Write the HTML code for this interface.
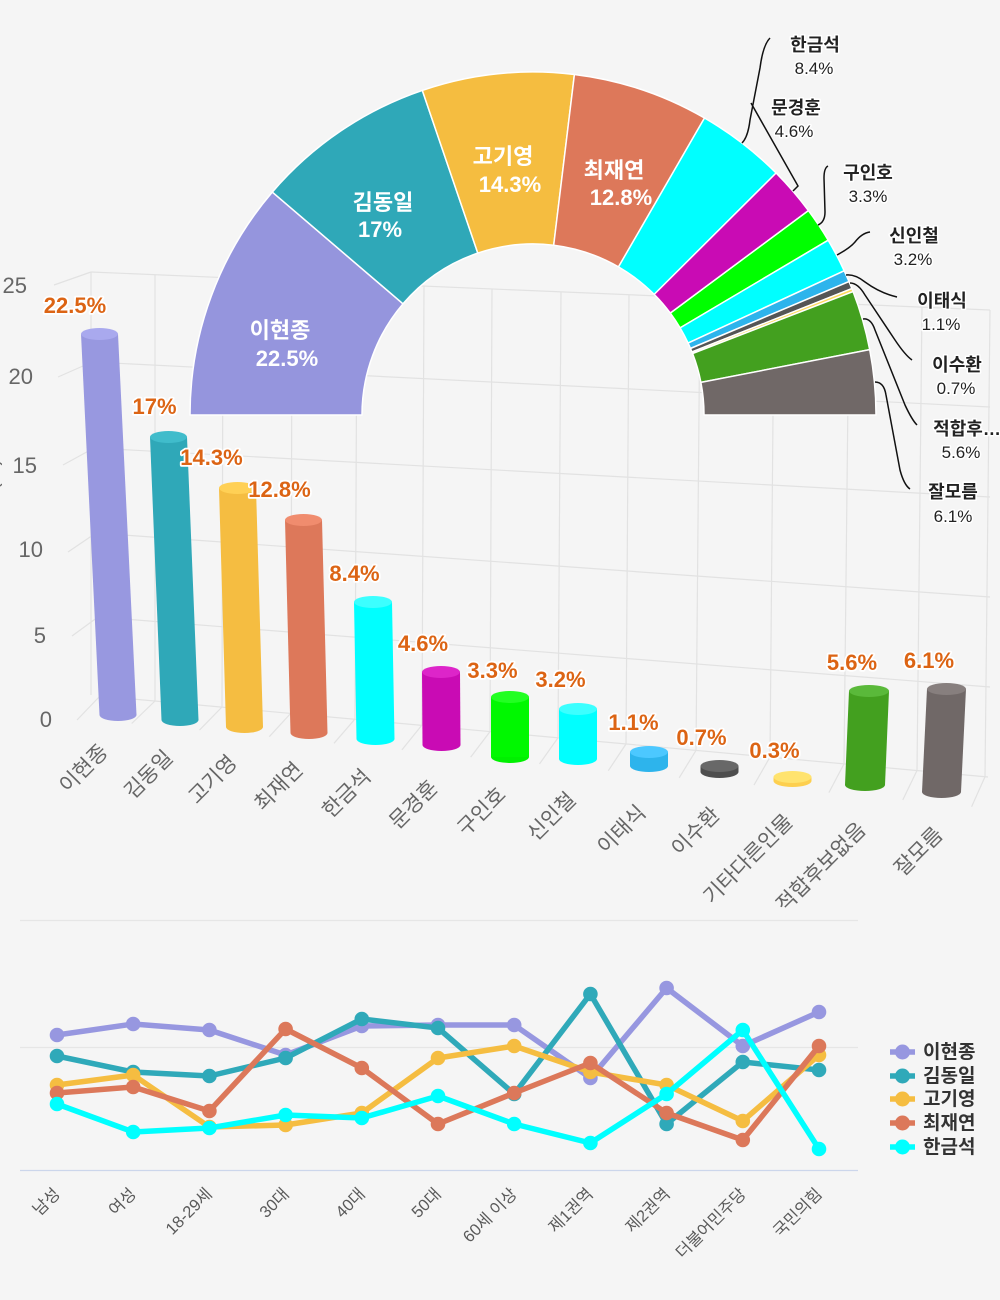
<!DOCTYPE html>
<html>
<head>
<meta charset="utf-8">
<style>
html,body{margin:0;padding:0;background:#f5f5f5;}
body{width:1000px;height:1300px;overflow:hidden;}
svg{display:block;font-family:"Liberation Sans","Noto Sans CJK KR",sans-serif;}
.grid line{stroke:#e2e2e2;stroke-width:1.2;}
.val{font-size:22px;font-weight:bold;fill:#dc6414;stroke:#fff;stroke-width:3.5px;paint-order:stroke;stroke-linejoin:round;text-anchor:middle;}
.cat{font-size:21px;fill:#666;text-anchor:end;}
.ytick{font-size:22px;fill:#666;text-anchor:end;}
.pin{font-size:22px;font-weight:bold;fill:#fff;text-anchor:middle;}
.pn{font-size:18px;font-weight:bold;fill:#222;text-anchor:middle;stroke:#fff;stroke-width:3px;paint-order:stroke;stroke-linejoin:round;}
.pp{font-size:17px;fill:#222;text-anchor:middle;stroke:#fff;stroke-width:3px;paint-order:stroke;stroke-linejoin:round;}
.conn{fill:none;stroke:#111;stroke-width:1.5;}
.lcat{font-size:16.5px;fill:#5a5a5a;text-anchor:end;}
.leg{font-size:19px;font-weight:bold;fill:#333;}
</style>
</head>
<body>
<svg width="1000" height="1300" viewBox="0 0 1000 1300" xmlns="http://www.w3.org/2000/svg">
<rect x="0" y="0" width="1000" height="1300" fill="#f5f5f5"/>

<!-- 3D grid -->
<g class="grid">
  <line x1="91" y1="272" x2="990" y2="310"/>
  <line x1="92" y1="362" x2="990" y2="407"/>
  <line x1="94" y1="448" x2="990" y2="497"/>
  <line x1="96" y1="533" x2="990" y2="597"/>
  <line x1="98" y1="617" x2="990" y2="687"/>
  <line x1="100" y1="696" x2="988" y2="777"/>
  <line x1="54" y1="285" x2="91" y2="272"/>
  <line x1="58" y1="377" x2="92" y2="362"/>
  <line x1="63" y1="465" x2="94" y2="448"/>
  <line x1="68" y1="552" x2="96" y2="533"/>
  <line x1="72" y1="636" x2="98" y2="617"/>
  <line x1="77" y1="720" x2="100" y2="696"/>
  <line x1="91" y1="272" x2="91" y2="695"/>
  <line x1="155" y1="274.7" x2="155" y2="701"/>
  <line x1="223" y1="277.6" x2="222" y2="707"/>
  <line x1="292" y1="280.5" x2="291" y2="713"/>
  <line x1="357" y1="283.2" x2="355" y2="719"/>
  <line x1="424" y1="286.1" x2="422" y2="725"/>
  <line x1="492" y1="289" x2="490" y2="731.6"/>
  <line x1="561" y1="291.9" x2="558" y2="737.8"/>
  <line x1="629" y1="294.7" x2="626" y2="744"/>
  <line x1="700" y1="297.7" x2="696" y2="750.4"/>
  <line x1="774" y1="300.9" x2="770" y2="757.1"/>
  <line x1="849" y1="304" x2="844" y2="763.9"/>
  <line x1="922" y1="307.1" x2="917" y2="770.5"/>
  <line x1="990" y1="310" x2="985" y2="776.7"/>
  <line x1="155" y1="701" x2="131.7" y2="723.5"/>
  <line x1="222" y1="707" x2="199.5" y2="730.1"/>
  <line x1="291" y1="713" x2="269.3" y2="736.7"/>
  <line x1="355" y1="719" x2="334" y2="743.3"/>
  <line x1="422" y1="725" x2="401.9" y2="749.9"/>
  <line x1="490" y1="731.6" x2="470.7" y2="757.1"/>
  <line x1="558" y1="737.8" x2="539.5" y2="763.9"/>
  <line x1="626" y1="744" x2="608.3" y2="770.7"/>
  <line x1="696" y1="750.4" x2="679.2" y2="777.8"/>
  <line x1="770" y1="757.1" x2="754" y2="785.1"/>
  <line x1="844" y1="763.9" x2="828.9" y2="792.6"/>
  <line x1="917" y1="770.5" x2="902.8" y2="799.9"/>
  <line x1="985" y1="776.7" x2="971.6" y2="806.7"/>
</g>

<!-- y axis -->
<text class="ytick" x="27" y="293">25</text>
<text class="ytick" x="33" y="384">20</text>
<text class="ytick" x="37" y="473">15</text>
<text class="ytick" x="43" y="557">10</text>
<text class="ytick" x="46" y="643">5</text>
<text class="ytick" x="52" y="727">0</text>
<text x="-2" y="502" font-size="20" fill="#666" text-anchor="middle" transform="rotate(-90 -2 502)">지지율(%)</text>

<!-- bars -->
<g>
  <ellipse cx="118" cy="715" rx="18.5" ry="6" fill="#9898e0"/>
  <polygon points="81,334 118,334 136.5,715 99.5,715" fill="#9898e0"/>
  <ellipse cx="99.5" cy="334" rx="18.5" ry="6" fill="#a9a9ee"/>
  <ellipse cx="180" cy="720" rx="18.5" ry="6" fill="#2fa8b8"/>
  <polygon points="150,437 187,437 198.5,720 161.5,720" fill="#2fa8b8"/>
  <ellipse cx="168.5" cy="437" rx="18.5" ry="6" fill="#40bccb"/>
  <ellipse cx="244.5" cy="727" rx="18.5" ry="6" fill="#f5bd41"/>
  <polygon points="219,488 256,488 263,727 226,727" fill="#f5bd41"/>
  <ellipse cx="237.5" cy="488" rx="18.5" ry="6" fill="#ffd055"/>
  <ellipse cx="309" cy="733" rx="18.5" ry="6" fill="#dd785a"/>
  <polygon points="285,520 322,520 327.5,733 290.5,733" fill="#dd785a"/>
  <ellipse cx="303.5" cy="520" rx="18.5" ry="6" fill="#f08c6e"/>
  <ellipse cx="375.5" cy="739" rx="19" ry="6" fill="#00ffff"/>
  <polygon points="354,602 392,602 394.5,739 356.5,739" fill="#00ffff"/>
  <ellipse cx="373" cy="602" rx="19" ry="6" fill="#3cffff"/>
  <ellipse cx="441.5" cy="745" rx="19" ry="6" fill="#c90bb4"/>
  <polygon points="422,672 460,672 460.5,745 422.5,745" fill="#c90bb4"/>
  <ellipse cx="441" cy="672" rx="19" ry="6" fill="#dd25c9"/>
  <ellipse cx="510" cy="757" rx="19" ry="6" fill="#00f000"/>
  <polygon points="491,697 529,697 529,757 491,757" fill="#00f800"/>
  <ellipse cx="510" cy="697" rx="19" ry="6" fill="#22ff22"/>
  <ellipse cx="578" cy="759" rx="19" ry="6" fill="#00ffff"/>
  <polygon points="559,709 597,709 597,759 559,759" fill="#00ffff"/>
  <ellipse cx="578" cy="709" rx="19" ry="6" fill="#3cffff"/>
  <ellipse cx="649" cy="766" rx="19" ry="6" fill="#2db4ec"/>
  <polygon points="630,752 668,752 668,766 630,766" fill="#2db4ec"/>
  <ellipse cx="649" cy="752" rx="19" ry="6" fill="#4cc8ff"/>
  <ellipse cx="719.5" cy="772" rx="19" ry="6" fill="#4e4e4e"/>
  <polygon points="700.5,766 738.5,766 738.5,772 700.5,772" fill="#4e4e4e"/>
  <ellipse cx="719.5" cy="766" rx="19" ry="6" fill="#686868"/>
  <ellipse cx="792.5" cy="781" rx="19" ry="6" fill="#fdcf4f"/>
  <polygon points="773.5,777 811.5,777 811.5,781 773.5,781" fill="#fdcf4f"/>
  <ellipse cx="792.5" cy="777" rx="19" ry="6" fill="#ffe36e"/>
  <ellipse cx="865" cy="785" rx="20" ry="6" fill="#43a01f"/>
  <polygon points="849,691 889,691 885,785 845,785" fill="#43a01f"/>
  <ellipse cx="869" cy="691" rx="20" ry="6" fill="#5ab93a"/>
  <ellipse cx="941.5" cy="792" rx="19.5" ry="6" fill="#706867"/>
  <polygon points="927,689 966,689 961,792 922,792" fill="#706867"/>
  <ellipse cx="946.5" cy="689" rx="19.5" ry="6" fill="#877f7e"/>
</g>

<!-- bar value labels -->
<text class="val" x="75" y="313">22.5%</text>
<text class="val" x="154.5" y="414">17%</text>
<text class="val" x="211.5" y="465">14.3%</text>
<text class="val" x="279.5" y="497">12.8%</text>
<text class="val" x="354.5" y="581">8.4%</text>
<text class="val" x="423" y="651">4.6%</text>
<text class="val" x="492.5" y="678">3.3%</text>
<text class="val" x="560.5" y="687">3.2%</text>
<text class="val" x="633.5" y="730">1.1%</text>
<text class="val" x="701.5" y="745">0.7%</text>
<text class="val" x="774.5" y="758">0.3%</text>
<text class="val" x="852" y="670">5.6%</text>
<text class="val" x="929" y="668">6.1%</text>

<!-- bar category labels -->
<text class="cat" x="109" y="753" transform="rotate(-45 109 753)">이현종</text>
<text class="cat" x="174" y="759" transform="rotate(-45 174 759)">김동일</text>
<text class="cat" x="238" y="764" transform="rotate(-45 238 764)">고기영</text>
<text class="cat" x="304" y="771" transform="rotate(-45 304 771)">최재연</text>
<text class="cat" x="372" y="778" transform="rotate(-45 372 778)">한금석</text>
<text class="cat" x="439" y="789" transform="rotate(-45 439 789)">문경훈</text>
<text class="cat" x="507" y="796" transform="rotate(-45 507 796)">구인호</text>
<text class="cat" x="577" y="801" transform="rotate(-45 577 801)">신인철</text>
<text class="cat" x="647" y="814" transform="rotate(-45 647 814)">이태식</text>
<text class="cat" x="721" y="816" transform="rotate(-45 721 816)">이수환</text>
<text class="cat" x="794" y="823" transform="rotate(-45 794 823)">기타다른인물</text>
<text class="cat" x="867" y="831" transform="rotate(-45 867 831)">적합후보없음</text>
<text class="cat" x="944" y="836" transform="rotate(-45 944 836)">잘모름</text>

<!-- semi donut -->
<g stroke="#fff" stroke-width="1.5" stroke-linejoin="round">
  <path d="M190,415 A343,343 0 0 1 272.3,192.1 L403.0,303.8 A171,171 0 0 0 362,415 Z" fill="#9595dd"/>
  <path d="M272.3,192.1 A343,343 0 0 1 422.3,90.4 L477.8,253.1 A171,171 0 0 0 403.0,303.8 Z" fill="#2fa8b8"/>
  <path d="M422.3,90.4 A343,343 0 0 1 574.4,74.5 L553.7,245.2 A171,171 0 0 0 477.8,253.1 Z" fill="#f5bd40"/>
  <path d="M574.4,74.5 A343,343 0 0 1 704.5,118.0 L618.5,266.9 A171,171 0 0 0 553.7,245.2 Z" fill="#dd785a"/>
  <path d="M704.5,118.0 A343,343 0 0 1 776.1,173.0 L654.2,294.4 A171,171 0 0 0 618.5,266.9 Z" fill="#00ffff"/>
  <path d="M776.1,173.0 A343,343 0 0 1 808.4,210.6 L670.3,313.1 A171,171 0 0 0 654.2,294.4 Z" fill="#c90bb4"/>
  <path d="M808.4,210.6 A343,343 0 0 1 828.2,240.2 L680.1,327.9 A171,171 0 0 0 670.3,313.1 Z" fill="#00ff00"/>
  <path d="M828.2,240.2 A343,343 0 0 1 844.2,270.8 L688.1,343.1 A171,171 0 0 0 680.1,327.9 Z" fill="#00ffff"/>
  <path d="M844.2,270.8 A343,343 0 0 1 849.0,281.6 L690.5,348.5 A171,171 0 0 0 688.1,343.1 Z" fill="#2db4ec"/>
  <path d="M849.0,281.6 A343,343 0 0 1 851.9,288.6 L692.0,352.0 A171,171 0 0 0 690.5,348.5 Z" fill="#555555"/>
  <path d="M851.9,288.6 A343,343 0 0 1 853.1,291.6 L692.6,353.5 A171,171 0 0 0 692.0,352.0 Z" fill="#fdd85d"/>
  <path d="M853.1,291.6 A343,343 0 0 1 869.7,349.6 L700.9,382.4 A171,171 0 0 0 692.6,353.5 Z" fill="#43a01f"/>
  <path d="M869.7,349.6 A343,343 0 0 1 876,415 L704,415 A171,171 0 0 0 700.9,382.4 Z" fill="#706867"/>
</g>

<!-- pie inner labels -->
<text class="pin" x="280" y="338">이현종</text>
<text class="pin" x="287" y="366">22.5%</text>
<text class="pin" x="383" y="210">김동일</text>
<text class="pin" x="380" y="237">17%</text>
<text class="pin" x="503" y="164">고기영</text>
<text class="pin" x="510" y="192">14.3%</text>
<text class="pin" x="614" y="178">최재연</text>
<text class="pin" x="621" y="205">12.8%</text>

<!-- connectors -->
<path class="conn" d="M742,143 Q748,137 750,120 L760,68 Q763,45 770,38"/>
<path class="conn" d="M793,191 L798,186 L751,103"/>
<path class="conn" d="M818,225 Q825,222 825,212 L824,178 Q824,168 828,166"/>
<path class="conn" d="M837,255 Q850,248 855,242 Q862,233 870,232"/>
<path class="conn" d="M846,275 Q855,274 865,282 Q880,293 897,297"/>
<path class="conn" d="M850,283 Q858,283 865,295 L895,340 Q905,355 912,360"/>
<path class="conn" d="M863,319 Q871,318 875,330 L905,405 Q912,420 917,425"/>
<path class="conn" d="M875,382 Q884,382 886,395 L900,470 Q904,485 910,489"/>

<!-- pie outer labels -->
<text class="pn" x="815" y="51">한금석</text>
<text class="pp" x="814" y="74">8.4%</text>
<text class="pn" x="796" y="114">문경훈</text>
<text class="pp" x="794" y="137">4.6%</text>
<text class="pn" x="868" y="179">구인호</text>
<text class="pp" x="868" y="202">3.3%</text>
<text class="pn" x="914" y="242">신인철</text>
<text class="pp" x="913" y="265">3.2%</text>
<text class="pn" x="942" y="307">이태식</text>
<text class="pp" x="941" y="330">1.1%</text>
<text class="pn" x="957" y="371">이수환</text>
<text class="pp" x="956" y="394">0.7%</text>
<text class="pn" x="967" y="435">적합후…</text>
<text class="pp" x="961" y="458">5.6%</text>
<text class="pn" x="953" y="498">잘모름</text>
<text class="pp" x="953" y="522">6.1%</text>

<!-- line chart -->
<line x1="20" y1="920.5" x2="858" y2="920.5" stroke="#e6e6e6" stroke-width="1.2"/>
<line x1="20" y1="1047.5" x2="858" y2="1047.5" stroke="#e6e6e6" stroke-width="1.2"/>
<line x1="20" y1="1170.5" x2="858" y2="1170.5" stroke="#ccd6eb" stroke-width="1.2"/>

<defs>
  <marker id="m1" markerUnits="userSpaceOnUse" markerWidth="18" markerHeight="18" refX="9" refY="9" viewBox="0 0 18 18"><circle cx="9" cy="9" r="7.3" fill="#9797e0"/></marker>
  <marker id="m2" markerUnits="userSpaceOnUse" markerWidth="18" markerHeight="18" refX="9" refY="9" viewBox="0 0 18 18"><circle cx="9" cy="9" r="7.3" fill="#2fa9b9"/></marker>
  <marker id="m3" markerUnits="userSpaceOnUse" markerWidth="18" markerHeight="18" refX="9" refY="9" viewBox="0 0 18 18"><circle cx="9" cy="9" r="7.3" fill="#f5bd41"/></marker>
  <marker id="m4" markerUnits="userSpaceOnUse" markerWidth="18" markerHeight="18" refX="9" refY="9" viewBox="0 0 18 18"><circle cx="9" cy="9" r="7.3" fill="#dc785a"/></marker>
  <marker id="m5" markerUnits="userSpaceOnUse" markerWidth="18" markerHeight="18" refX="9" refY="9" viewBox="0 0 18 18"><circle cx="9" cy="9" r="7.3" fill="#00ffff"/></marker>
</defs>
<g fill="none" stroke-width="5.5" stroke-linejoin="round" stroke-linecap="round">
  <path stroke="#9797e0" marker-start="url(#m1)" marker-mid="url(#m1)" marker-end="url(#m1)" d="M57,1035 L133.2,1024 L209.4,1030 L285.6,1055 L361.8,1026 L438,1025 L514.2,1025 L590.4,1078 L666.6,988 L742.8,1046 L819,1012"/>
  <path stroke="#2fa9b9" marker-start="url(#m2)" marker-mid="url(#m2)" marker-end="url(#m2)" d="M57,1056 L133.2,1072 L209.4,1076 L285.6,1058 L361.8,1019 L438,1028 L514.2,1094 L590.4,994 L666.6,1124 L742.8,1062 L819,1070"/>
  <path stroke="#f5bd41" marker-start="url(#m3)" marker-mid="url(#m3)" marker-end="url(#m3)" d="M57,1085 L133.2,1075 L209.4,1127 L285.6,1125 L361.8,1113 L438,1058 L514.2,1046 L590.4,1072 L666.6,1085 L742.8,1121 L819,1055"/>
  <path stroke="#dc785a" marker-start="url(#m4)" marker-mid="url(#m4)" marker-end="url(#m4)" d="M57,1093 L133.2,1087 L209.4,1111 L285.6,1029 L361.8,1068 L438,1124 L514.2,1093 L590.4,1063 L666.6,1113 L742.8,1140 L819,1046"/>
  <path stroke="#00ffff" marker-start="url(#m5)" marker-mid="url(#m5)" marker-end="url(#m5)" d="M57,1104 L133.2,1132 L209.4,1128 L285.6,1115 L361.8,1118 L438,1096 L514.2,1124 L590.4,1143 L666.6,1094 L742.8,1030 L819,1149"/>
</g>

<!-- line chart category labels -->
<text class="lcat" x="61" y="1195" transform="rotate(-45 61 1195)">남성</text>
<text class="lcat" x="137" y="1195" transform="rotate(-45 137 1195)">여성</text>
<text class="lcat" x="213" y="1195" transform="rotate(-45 213 1195)">18-29세</text>
<text class="lcat" x="290" y="1195" transform="rotate(-45 290 1195)">30대</text>
<text class="lcat" x="366" y="1195" transform="rotate(-45 366 1195)">40대</text>
<text class="lcat" x="442" y="1195" transform="rotate(-45 442 1195)">50대</text>
<text class="lcat" x="518" y="1195" transform="rotate(-45 518 1195)">60세 이상</text>
<text class="lcat" x="594" y="1195" transform="rotate(-45 594 1195)">제1권역</text>
<text class="lcat" x="671" y="1195" transform="rotate(-45 671 1195)">제2권역</text>
<text class="lcat" x="747" y="1195" transform="rotate(-45 747 1195)">더불어민주당</text>
<text class="lcat" x="823" y="1195" transform="rotate(-45 823 1195)">국민의힘</text>

<!-- legend -->
<g stroke-width="5.5">
  <line x1="890" y1="1052" x2="915" y2="1052" stroke="#9797e0"/><circle cx="902.5" cy="1052" r="7.5" fill="#9797e0"/>
  <line x1="890" y1="1076" x2="915" y2="1076" stroke="#2fa9b9"/><circle cx="902.5" cy="1076" r="7.5" fill="#2fa9b9"/>
  <line x1="890" y1="1099" x2="915" y2="1099" stroke="#f5bd41"/><circle cx="902.5" cy="1099" r="7.5" fill="#f5bd41"/>
  <line x1="890" y1="1123" x2="915" y2="1123" stroke="#dc785a"/><circle cx="902.5" cy="1123" r="7.5" fill="#dc785a"/>
  <line x1="890" y1="1147" x2="915" y2="1147" stroke="#00ffff"/><circle cx="902.5" cy="1147" r="7.5" fill="#00ffff"/>
</g>
<text class="leg" x="923" y="1058">이현종</text>
<text class="leg" x="923" y="1082">김동일</text>
<text class="leg" x="923" y="1105">고기영</text>
<text class="leg" x="923" y="1129">최재연</text>
<text class="leg" x="923" y="1153">한금석</text>
</svg>
</body>
</html>
